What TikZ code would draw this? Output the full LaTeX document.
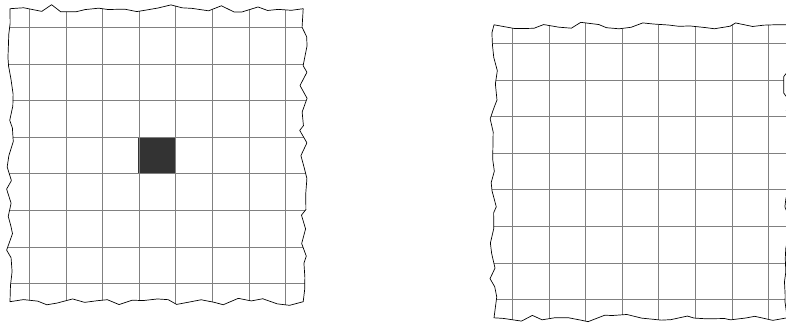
\documentclass[tikz,border=0pt]{standalone}
\usetikzlibrary{decorations.pathmorphing}
\definecolor{cellfill}{HTML}{333333}
\begin{document}
\begin{tikzpicture}[x=1pt,y=-1pt,
  gridline/.style={black!50, line width=0.6pt},
  torn/.style={decorate, decoration={random steps, segment length=12pt, amplitude=4pt}},
  edge/.style={black, line width=0.7pt, line join=round}]
\useasboundingbox (0,0) rectangle (786,322);
% left sheet
\pgfmathsetseed{11}
\begin{scope}
  \path[torn, clip] (10,8.7) rectangle (303.2,301.7);
  \fill[cellfill] (138.3,137) rectangle (175,173.4);
  \foreach \i in {0,...,7} {
    \draw[gridline] ({29.3+36.6*\i},0) -- ({29.3+36.6*\i},322);
    \draw[gridline] (0,{27.3+36.6*\i}) -- (320,{27.3+36.6*\i});
  }
\end{scope}
\pgfmathsetseed{11}
\draw[edge, torn] (10,8.7) rectangle (303.2,301.7);
% right sheet
\pgfmathsetseed{23}
\begin{scope}
  \path[torn, clip] (494,24.8) rectangle (787.2,317.8);
  \foreach \i in {0,...,7} {
    \draw[gridline] ({512.3+36.6*\i},0) -- ({512.3+36.6*\i},322);
    \draw[gridline] (480,{43.3+36.6*\i}) -- (800,{43.3+36.6*\i});
  }
\end{scope}
\pgfmathsetseed{23}
\draw[edge, torn] (494,24.8) rectangle (787.2,317.8);
\end{tikzpicture}
\end{document}
